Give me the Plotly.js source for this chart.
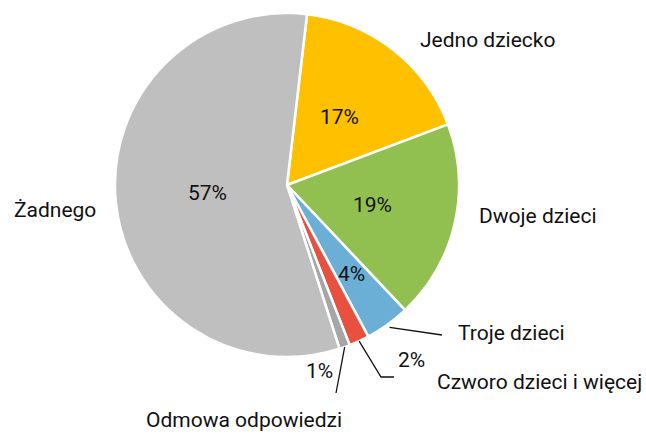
<!DOCTYPE html>
<html><head><meta charset="utf-8">
<script src="https://cdn.plot.ly/plotly-3.0.1.min.js"></script>
<style>html,body{margin:0;padding:0;background:#fff}#chart{width:646px;height:434px}</style>
</head><body><div id="chart"></div>
<script>
var categories = ['Jedno dziecko', 'Dwoje dzieci', 'Troje dzieci', 'Czworo dzieci i więcej', 'Odmowa odpowiedzi', 'Żadnego'];
var values = [17.4, 18.7, 4.2, 1.9, 1.0, 56.8];
var colors = ['#FFC000', '#92C050', '#6BAFD6', '#E8503F', '#A6A6A6', '#BFBFBF'];

var W = 646, H = 434;
var cx = 287, cy = 185, R = 172;
var rotation = 6.7;
function px(x){return x / W;}
function py(y){return 1 - y / H;}

var total = values.reduce(function(a,b){return a+b;}, 0);
var mids = [], acc = rotation;
values.forEach(function(v){ var span = v / total * 360; mids.push(acc + span/2); acc += span; });
function pt(angleDeg, r){ var a = angleDeg*Math.PI/180; return [cx + r*Math.sin(a), cy - r*Math.cos(a)]; }

var font = {family: 'Roboto, sans-serif', size: 21, color: '#111111'};
var ann = [], shapes = [];
// inside percentages
var insideIdx = [0, 1, 2, 5];
var insideR = {0: 0.5, 1: 0.51, 2: 0.64, 5: 0.465};
insideIdx.forEach(function(i){
  var p = pt(mids[i], R*insideR[i]);
  ann.push({x: px(p[0]), y: py(p[1]), xref:'paper', yref:'paper', text: Math.round(values[i]) + '%', showarrow:false, font: font, xanchor:'center', yanchor:'middle'});
});
// category labels
var catPos = [[488,40],[538,216],[511,333],[539,382],[244,420],[55,210]];
categories.forEach(function(c, i){
  ann.push({x: px(catPos[i][0]), y: py(catPos[i][1]), xref:'paper', yref:'paper', text: c, showarrow:false, font: font, xanchor:'center', yanchor:'middle'});
});
// outside percentages
ann.push({x: px(411), y: py(374), xref:'paper', yref:'paper', text: Math.round(values[3]) + '%', showarrow:false, font: font});
ann.push({x: px(319), y: py(385), xref:'paper', yref:'paper', text: Math.round(values[4]) + '%', showarrow:false, font: font});
// leader lines
var lc = {color:'#111111', width:1.3};
var s2 = pt(mids[2], R*1.02);
shapes.push({type:'line', xref:'paper', yref:'paper', x0:px(s2[0]), y0:py(s2[1]), x1:px(442), y1:py(335), line:lc});
var s3 = pt(mids[3], R*1.0);
shapes.push({type:'path', xref:'paper', yref:'paper', path:'M '+px(s3[0])+' '+py(s3[1])+' L '+px(381)+' '+py(377)+' L '+px(394)+' '+py(377), line:lc});
var s4 = pt(mids[4], R*1.0);
shapes.push({type:'line', xref:'paper', yref:'paper', x0:px(s4[0]), y0:py(s4[1]), x1:px(336), y1:py(393), line:lc});

var trace = {
  type: 'pie', labels: categories, values: values, sort: false, direction: 'clockwise', rotation: rotation,
  marker: {colors: colors, line: {color: '#ffffff', width: 2.5}},
  textinfo: 'none', hoverinfo: 'label+percent', showlegend: false,
  domain: {x: [(cx-R)/W, (cx+R)/W], y: [1-(cy+R)/H, 1-(cy-R)/H]}
};
var layout = {width: W, height: H, margin: {l:0, r:0, t:0, b:0}, paper_bgcolor:'#fff', showlegend:false, annotations: ann, shapes: shapes, font: font};
Plotly.newPlot('chart', [trace], layout, {displayModeBar:false, staticPlot:true});
</script></body></html>
